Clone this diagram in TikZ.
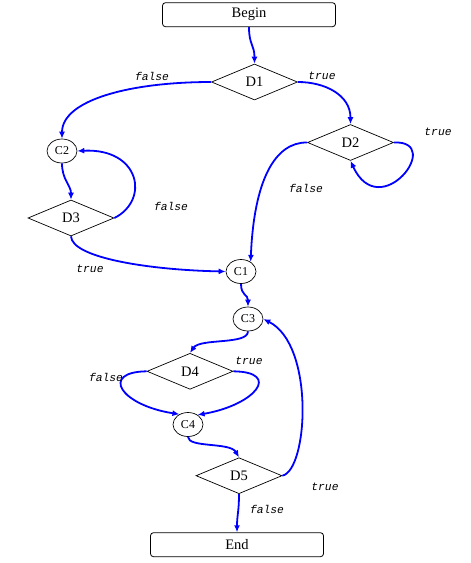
\documentclass[tikz,border=0pt]{standalone}
\usepackage{fontspec}
\setmainfont{Liberation Serif}
\newfontfamily\labfont{Liberation Mono}
\usetikzlibrary{shapes.geometric,arrows.meta}
\tikzset{
  termbox/.style={draw=black,line width=0.8pt,rounded corners=3pt,minimum width=173pt,minimum height=24pt,inner sep=0pt,font=\fontsize{14.5}{16}\selectfont},
  decbox/.style={draw=black,line width=0.7pt,diamond,minimum width=86pt,minimum height=36pt,inner sep=0pt,font=\fontsize{14.5}{16}\selectfont},
  conbox/.style={draw=black,line width=0.7pt,ellipse,minimum width=30pt,minimum height=24pt,inner sep=0pt,font=\fontsize{12}{14}\selectfont},
  flow/.style={draw=blue,line width=1.8pt,-{Latex[length=7pt,width=6pt]}},
  lab/.style={font=\labfont\itshape\fontsize{11.3}{13}\selectfont,inner sep=0pt}
}
\begin{document}
\begin{tikzpicture}[x=1pt,y=-1pt]
\useasboundingbox[fill=white] (0,0) rectangle (471,563);
\node[termbox] (B) at (249,14.7) {Begin};
\node[decbox] (D1) at (254.5,82) {D1};
\node[decbox] (D2) at (350.5,142.5) {D2};
\node[conbox] (C2) at (62,151) {C2};
\node[decbox] (D3) at (71,218) {D3};
\node[conbox] (C1) at (241,271.5) {C1};
\node[conbox] (C3) at (248,319) {C3};
\node[decbox] (D4) at (190,371.3) {D4};
\node[conbox] (C4) at (188,424.5) {C4};
\node[decbox] (D5) at (239,475.7) {D5};
\node[termbox] (E) at (237,544.7) {End};

\draw[flow] (B.south) .. controls (249,45) and (254.5,45) .. (D1.north);
\draw[flow] (D1.west) .. controls (130,82) and (62,100) .. (C2.north);
\draw[flow] (D1.east) .. controls (325,82) and (350.5,95) .. (D2.north);
\draw[flow] (D2.east) .. controls (445,140) and (380,225) .. (D2.south);
\draw[flow] (D2.west) .. controls (275,142) and (254,180) .. (C1.45);
\draw[flow] (C2.south) .. controls (62,180) and (71,185) .. (D3.north);
\draw[flow] (D3.east) .. controls (150,200) and (140,148) .. (C2.east);
\draw[flow] (D3.south) .. controls (72,258) and (150,270) .. (C1.west);
\draw[flow] (C1.south) .. controls (241,296) and (248,294) .. (C3.north);
\draw[flow] (C3.south) .. controls (248,345) and (200,338) .. (D4.north);
\draw[flow] (D4.west) .. controls (100,372) and (120,405) .. (C4.130);
\draw[flow] (D4.east) .. controls (282,372) and (255,405) .. (C4.45);
\draw[flow] (C4.south) .. controls (188,448) and (230,442) .. (D5.north);
\draw[flow] (D5.east) .. controls (308,470) and (315,345) .. (C3.east);
\draw[flow] (D5.south) .. controls (239,512) and (237,515) .. (E.north);

\node[lab] (l1) at (152,76) {false};
\node[lab] (l2) at (322,76) {true};
\node[lab] (l3) at (438,132) {true};
\node[lab] (l4) at (306,188) {false};
\node[lab] (l5) at (171,206) {false};
\node[lab] (l6) at (90,269) {true};
\node[lab] (l7) at (249,361) {true};
\node[lab] (l8) at (106,377) {false};
\node[lab] (l9) at (325,487) {true};
\node[lab] (l10) at (267,509) {false};
\end{tikzpicture}
\end{document}
